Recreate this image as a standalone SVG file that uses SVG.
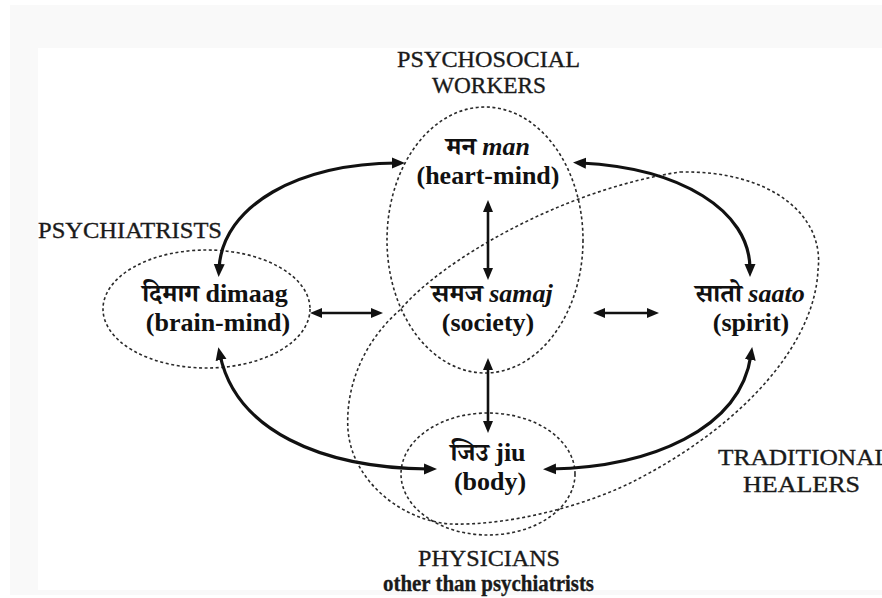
<svg xmlns="http://www.w3.org/2000/svg" width="882" height="598" viewBox="0 0 882 598">
<style>
.dot{fill:none;stroke:#2a2a2a;stroke-width:1.6;stroke-dasharray:3 2.6}
.lbl{font-family:"Liberation Serif","DejaVu Serif",serif;font-size:24px;fill:#1a1a1a;stroke:#1a1a1a;stroke-width:0.35}
.nt{font-family:"Liberation Serif","Noto Serif Devanagari","Noto Sans Devanagari","DejaVu Serif",serif;font-size:26px;font-weight:bold;fill:#111;text-anchor:middle}
.arc{fill:none;stroke:#111;stroke-width:3.2;marker-start:url(#ah);marker-end:url(#ah)}
.st{fill:none;stroke:#111;stroke-width:2.6;marker-start:url(#ah2);marker-end:url(#ah2)}
</style>
<defs>
<marker id="ah" markerUnits="userSpaceOnUse" markerWidth="14" markerHeight="12" viewBox="0 0 14 12" refX="5" refY="6" orient="auto-start-reverse">
<path d="M0,0.5 L13,6 L0,11.5 z" fill="#111"/>
</marker>
<marker id="ah2" markerUnits="userSpaceOnUse" markerWidth="13" markerHeight="11" viewBox="0 0 13 11" refX="5" refY="5.5" orient="auto-start-reverse">
<path d="M0,0.5 L12,5.5 L0,10.5 z" fill="#111"/>
</marker>
</defs>
<rect x="0" y="0" width="882" height="598" fill="#ffffff"/>
<rect x="10" y="5" width="872" height="590" fill="#f9f9f9"/>
<rect x="38" y="48" width="844" height="542" fill="#ffffff"/>

<g id="traditional-healers">
<path class="dot" d="M680,172 C770,170 825,215 818,270 C815,340 750,420 640,478 C590,505 510,526 450,524 C400,520 352,480 348,430 C345,385 365,340 400,310 C440,262 560,190 680,172 Z"/>
<text class="lbl" x="718" y="465" textLength="172" lengthAdjust="spacingAndGlyphs">TRADITIONAL</text>
<text class="lbl" x="743" y="492" textLength="117" lengthAdjust="spacingAndGlyphs">HEALERS</text>
</g>

<g id="man">
<ellipse class="dot" cx="485" cy="240" rx="98" ry="133"/>
<text class="lbl" x="397" y="67" textLength="183" lengthAdjust="spacingAndGlyphs">PSYCHOSOCIAL</text>
<text class="lbl" x="432" y="93" textLength="114" lengthAdjust="spacingAndGlyphs">WORKERS</text>
<text class="nt" x="488" y="155">मन <tspan font-style="italic">man</tspan></text>
<text class="nt" x="488" y="184">(heart-mind)</text>
</g>

<g id="samaj">
<text class="nt" x="492" y="302">समज <tspan font-style="italic">samaj</tspan></text>
<text class="nt" x="488" y="331">(society)</text>
</g>

<g id="dimaag">
<ellipse class="dot" cx="206.5" cy="309" rx="103.5" ry="59"/>
<text class="lbl" x="38" y="238" textLength="184" lengthAdjust="spacingAndGlyphs">PSYCHIATRISTS</text>
<text class="nt" x="215" y="302">दिमाग dimaag</text>
<text class="nt" x="218" y="331">(brain-mind)</text>
</g>

<g id="saato">
<text class="nt" x="750" y="302">सातो <tspan font-style="italic">saato</tspan></text>
<text class="nt" x="751" y="331">(spirit)</text>
</g>

<g id="jiu">
<ellipse class="dot" cx="488" cy="474" rx="87" ry="61"/>
<text class="nt" x="488" y="461">जिउ jiu</text>
<text class="nt" x="490" y="490">(body)</text>
<text class="lbl" x="418" y="566" font-size="22" textLength="142" lengthAdjust="spacingAndGlyphs">PHYSICIANS</text>
<text class="lbl" x="383" y="591" font-size="18" font-weight="bold" stroke-width="0" textLength="211" lengthAdjust="spacingAndGlyphs">other than psychiatrists</text>
</g>

<g id="connectors">
<path class="arc" d="M219,269 C222,205 300,163 397,163"/>
<path class="arc" d="M581,163 C680,168 750,210 750,269"/>
<path class="arc" d="M220,355 C236,430 320,468 429,469"/>
<path class="arc" d="M751,355 C740,430 650,467 551,469"/>
<path class="st" d="M488,207 L488,273"/>
<path class="st" d="M488,365 L488,426"/>
<path class="st" d="M317,313 L376,313"/>
<path class="st" d="M600,313 L652,313"/>
</g>
</svg>
